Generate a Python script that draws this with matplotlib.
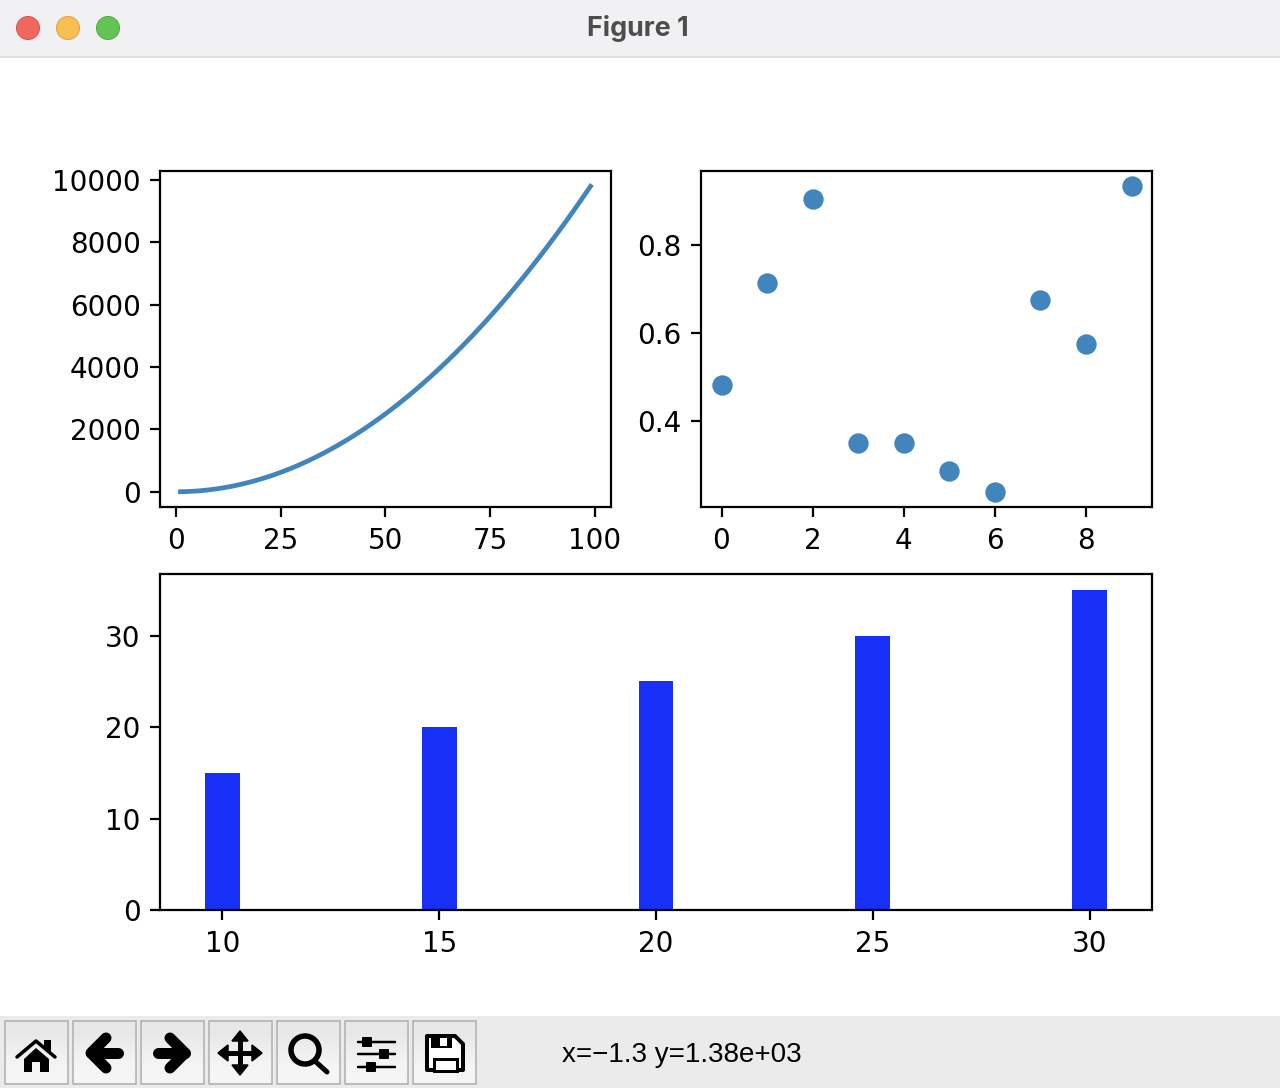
import matplotlib
matplotlib.use("Agg")
import matplotlib.pyplot as plt
from matplotlib.patches import Circle, Polygon, Rectangle, FancyBboxPatch

W, H = 1280, 1088
PX = 72 / 200  # one pixel in points

LINE_X = [1, 3, 5, 7, 9, 11, 13, 15, 17, 19, 21, 23, 25, 27, 29, 31, 33, 35, 37, 39, 41, 43, 45, 47, 49,
          51, 53, 55, 57, 59, 61, 63, 65, 67, 69, 71, 73, 75, 77, 79, 81, 83, 85, 87, 89, 91, 93, 95, 97, 99]
LINE_Y = [1, 9, 25, 49, 81, 121, 169, 225, 289, 361, 441, 529, 625, 729, 841, 961, 1089, 1225, 1369,
          1521, 1681, 1849, 2025, 2209, 2401, 2601, 2809, 3025, 3249, 3481, 3721, 3969, 4225, 4489,
          4761, 5041, 5329, 5625, 5929, 6241, 6561, 6889, 7225, 7569, 7921, 8281, 8649, 9025, 9409, 9801]
DOT_X = [0, 1, 2, 3, 4, 5, 6, 7, 8, 9]
DOT_Y = [0.48, 0.712, 0.905, 0.349, 0.349, 0.285, 0.238, 0.675, 0.573, 0.933]
BAR_X = [10, 15, 20, 25, 30]
BAR_Y = [15, 20, 25, 30, 35]
WINDOW_TITLE = "Figure 1"
STATUS = "x=\u22121.3 y=1.38e+03"

BLUE = "#4285BD"
BAR_BLUE = "#1730F5"


def px_axes(fig, left, top, right, bottom):
    return fig.add_axes([left / W, 1 - bottom / H, (right - left) / W, (bottom - top) / H])


def draw_chrome(fig):
    ax = fig.add_axes([0, 0, 1, 1], zorder=-1)
    ax.axis("off")

    # title bar
    ax.add_patch(Rectangle((0, 0), W, 56, fc="#F1F1F3", ec="none"))
    ax.plot([0, W], [56.5, 56.5], color="#D8D8D8", lw=1.5 * PX)
    for cx, fc, ec in [(28, "#F1675F", "#D9534C"), (68, "#F6BF50", "#DDA23E"), (108, "#61C554", "#4FAE43")]:
        ax.add_patch(Circle((cx, 28), 11.5, fc=fc, ec=ec, lw=1 * PX))
    ax.text(638, 29, WINDOW_TITLE, family="Inter", weight="bold", fontsize=9.7, color="#4D4D4D",
            ha="center", va="center")

    # toolbar
    ax.add_patch(Rectangle((0, 1016), W, 72, fc="#EBEBEB", ec="none"))
    for left in [4, 72, 140, 208, 276, 344, 412]:
        ax.imshow([[0.91], [0.96]], cmap="gray", vmin=0, vmax=1, aspect="auto", interpolation="bilinear",
                  extent=(left + 0.5, left + 63.5, 1083.5, 1020.5), zorder=1)
        ax.add_patch(Rectangle((left + 0.5, 1020.5), 63, 63, fc="none", ec="#ADADAD", lw=1.5 * PX, zorder=2))

    def stroke(xs, ys, width):
        ax.plot(xs, ys, color="black", lw=width * PX, solid_capstyle="round", solid_joinstyle="round", zorder=3)

    def shape(points, **kw):
        kw.setdefault("fc", "black")
        kw.setdefault("ec", "none")
        ax.add_patch(Polygon(points, zorder=3, **kw))

    def box(x0, y0, x1, y1, fc="black"):
        ax.add_patch(Rectangle((x0, y0), x1 - x0, y1 - y0, fc=fc, ec="none", zorder=3))

    # home
    stroke([17, 36, 55], [1057, 1041, 1057], 3.5)
    shape([(36, 1048), (49, 1059), (49, 1072), (40, 1072), (40, 1062), (32, 1062),
           (32, 1072), (24, 1072), (24, 1059)])
    shape([(44, 1040), (51, 1040), (51, 1053), (44, 1047)])
    # back / forward
    stroke([106, 91, 106], [1038, 1053, 1068], 11)
    stroke([91, 118], [1053, 1053], 11)
    stroke([170, 185, 170], [1038, 1053, 1068], 11)
    stroke([158, 185], [1053, 1053], 11)
    # move
    stroke([240, 240], [1038, 1068], 5)
    stroke([225, 255], [1053, 1053], 5)
    shape([(240, 1031), (248, 1041), (232, 1041)], ec="black", lw=1.5 * PX)
    shape([(240, 1075), (248, 1065), (232, 1065)], ec="black", lw=1.5 * PX)
    shape([(218, 1053), (228, 1045), (228, 1061)], ec="black", lw=1.5 * PX)
    shape([(262, 1053), (252, 1045), (252, 1061)], ec="black", lw=1.5 * PX)
    # zoom
    ax.add_patch(Circle((305, 1050), 14, fc="none", ec="black", lw=5.5 * PX, zorder=3))
    stroke([316, 327], [1062, 1072], 5)
    # sliders
    for y, cx in [(1042, 367), (1054, 384), (1067, 371)]:
        stroke([358, 395], [y, y], 2.5)
        ax.add_patch(FancyBboxPatch((cx - 4, y - 4), 8, 8, boxstyle="round,pad=1", fc="black", ec="none", zorder=3))
    # save
    shape([(427, 1036), (455, 1036), (463, 1044), (463, 1070), (427, 1070)],
          fc="white", ec="black", lw=4 * PX, joinstyle="round")
    box(431, 1035, 452, 1048)
    box(440, 1038, 447, 1046, fc="white")
    ax.add_patch(Rectangle((433.5, 1058.5), 23, 12, fc="white", ec="black", lw=3 * PX, zorder=3))

    ax.text(562, 1055, STATUS, family="Liberation Sans", fontsize=10, color="black", ha="left", va="center")

    ax.set_xlim(0, W)
    ax.set_ylim(H, 0)


def main():
    fig = plt.figure(figsize=(W / 200, H / 200), dpi=200, facecolor="white")
    draw_chrome(fig)

    ax1 = px_axes(fig, 160, 171, 611, 507)
    ax1.plot(LINE_X, LINE_Y, color=BLUE, lw=1.7)
    ax1.set_xticks([0, 25, 50, 75, 100])

    ax2 = px_axes(fig, 701, 171, 1152, 507)
    ax2.scatter(DOT_X, DOT_Y, color=BLUE, s=40)

    ax3 = px_axes(fig, 160, 574, 1152, 910)
    ax3.bar(BAR_X, BAR_Y, color=BAR_BLUE)
    ax3.set_xticks(BAR_X)

    for ax in (ax1, ax2, ax3):
        ax.tick_params(axis="x", pad=3.6)

    fig.savefig("out.png", dpi=200)


if __name__ == "__main__":
    main()
